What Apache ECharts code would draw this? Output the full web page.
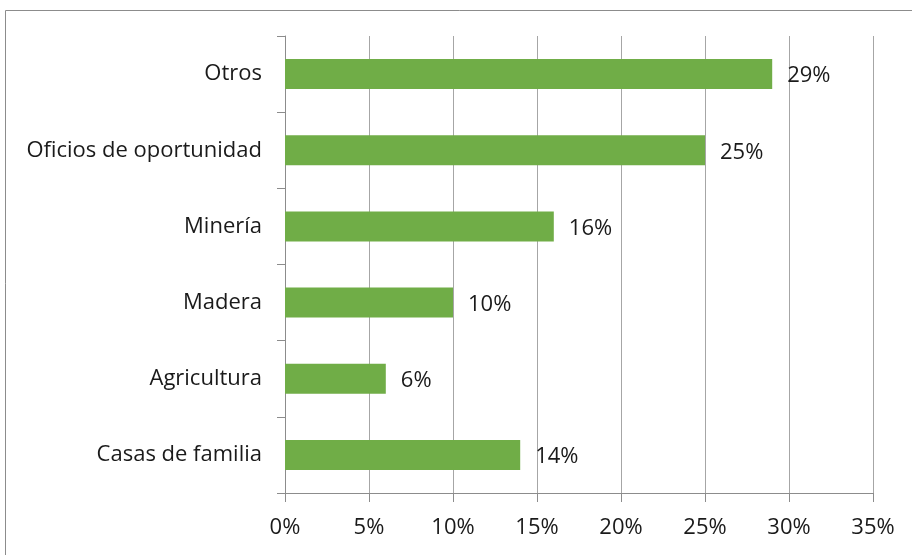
<!DOCTYPE html>
<html>
<head>
<meta charset="utf-8">
<script src="https://cdn.jsdelivr.net/npm/echarts@6/dist/echarts.min.js"></script>
<style>
  html, body { margin: 0; padding: 0; background: #ffffff; }
  #chart { width: 912px; height: 555px; }
</style>
</head>
<body>
<div id="chart"></div>
<script>
// Sectors of occupation, listed top to bottom
const categories = ['Otros', 'Oficios de oportunidad', 'Minería', 'Madera', 'Agricultura', 'Casas de familia'];
// Share of people in each sector (percent)
const shares = [29, 25, 16, 10, 6, 14];
// Percent axis
const axisMin = 0;
const axisMax = 35;
const axisStep = 5;

const FONT = '"Open Sans", "Noto Sans", sans-serif';
const chart = echarts.init(document.getElementById('chart'), null, { renderer: 'canvas' });

chart.setOption({
  animation: false,
  backgroundColor: '#ffffff',
  graphic: [{
    type: 'rect',
    shape: { x: 5.5, y: 10.5, width: 1000, height: 1000 },
    style: { fill: 'none', stroke: '#8c8c8c', lineWidth: 1 },
    silent: true
  }],
  grid: { left: 285, right: 39, top: 36, bottom: 62, containLabel: false },
  xAxis: {
    type: 'value',
    min: axisMin,
    max: axisMax,
    interval: axisStep,
    axisLine: { show: true, lineStyle: { color: '#8c8c8c', width: 1 } },
    axisTick: { show: true, length: 9, lineStyle: { color: '#8c8c8c' } },
    splitLine: { show: true, lineStyle: { color: '#a6a6a6', width: 1 } },
    axisLabel: {
      formatter: v => v + '%',
      color: '#1a1a1a',
      fontFamily: FONT,
      fontSize: 22,
      margin: 24
    }
  },
  yAxis: {
    type: 'category',
    data: categories,
    inverse: true,
    axisLine: { show: true, lineStyle: { color: '#8c8c8c', width: 1 } },
    axisTick: { show: true, length: 8, alignWithLabel: false, lineStyle: { color: '#8c8c8c' } },
    axisLabel: {
      color: '#1a1a1a',
      fontFamily: FONT,
      fontSize: 22,
      margin: 23,
      padding: [3, 0, 0, 0]
    }
  },
  series: [{
    type: 'bar',
    data: shares,
    barWidth: 30,
    itemStyle: { color: '#70ad47' },
    label: {
      show: true,
      position: 'right',
      distance: 15,
      offset: [0, 2],
      formatter: p => p.value + '%',
      color: '#1a1a1a',
      fontFamily: FONT,
      fontSize: 22
    }
  }]
});
</script>
</body>
</html>
